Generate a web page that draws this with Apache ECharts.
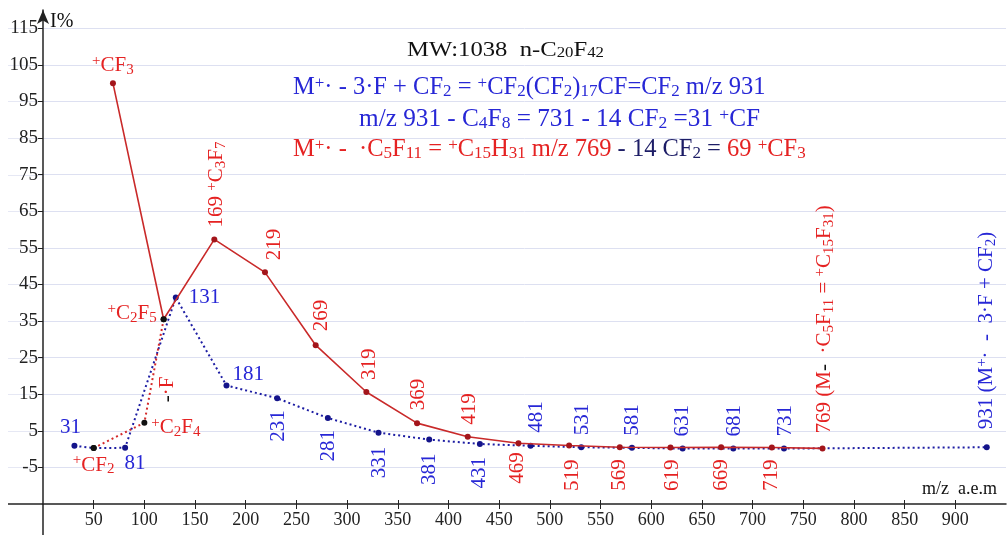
<!DOCTYPE html>
<html>
<head>
<meta charset="utf-8">
<title>n-C20F42 mass spectrum</title>
<script src="https://cdn.jsdelivr.net/npm/echarts@6/dist/echarts.min.js"></script>
<style>
  html, body { margin: 0; padding: 0; background: #fff; }
  #main { width: 1007px; height: 535px; }
</style>
</head>
<body>
<div id="main"></div>
<script>
// ---- data: m/z and relative intensity I% ----
var redMz = [69, 119, 169, 219, 269, 319, 369, 419, 469, 519, 569, 619, 669, 719, 769];
var redI  = [100, 35.5, 57.3, 48.3, 28.4, 15.6, 7.1, 3.4, 1.6, 1.0, 0.5, 0.45, 0.5, 0.45, 0.2];
var redLabels = ['{sup|+}CF{sub|3}', '{sup|+}C{sub|2}F{sub|5}', '169 {sup|+}C{sub|3}F{sub|7}',
  '219', '269', '319', '369', '419', '469', '519', '569', '619', '669', '719',
  '769 (M{k|-}  ·C{sub|5}F{sub|11} = {sup|+}C{sub|15}F{sub|31})'];

var lossMz = [50, 100, 119];
var lossI  = [0.3, 7.2, 35.5];
var lossLabels = ['{sup|+}CF{sub|2}', '{sup|+}C{sub|2}F{sub|4}', '{k|-}·F'];

var blueMz = [31, 50, 81, 131, 181, 231, 281, 331, 381, 431, 481, 531, 581, 631, 681, 731, 931];
var blueI  = [0.9, 0.3, 0.35, 41.4, 17.4, 13.9, 8.5, 4.5, 2.6, 1.4, 0.9, 0.5, 0.35, 0.15, 0.15, 0.15, 0.5];
var blueLabels = ['31', '', '81', '131', '181', '231', '281', '331', '381', '431', '481', '531',
  '581', '631', '681', '731', '931 (M{sup|+}·  -  3·F + CF{sub|2})'];

var xTicks = [50, 100, 150, 200, 250, 300, 350, 400, 450, 500, 550, 600, 650, 700, 750, 800, 850, 900];
var yTicks = [-5, 5, 15, 25, 35, 45, 55, 65, 75, 85, 95, 105, 115];

// ---- styles ----
var FONT = 'Liberation Serif';
var RED = '#e52222', BLUE = '#2727d6', NAVY = '#1d1d66';
var AXIS = '#222';

var rich = {
  sub: { fontSize: 15, lineHeight: 15, verticalAlign: 'bottom', fontFamily: FONT },
  sup: { fontSize: 15, lineHeight: 15, verticalAlign: 'top', fontFamily: FONT },
  k: { color: '#111', fontSize: 21, fontFamily: FONT }
};

function up(dx, dist) {
  return { position: 'top', rotate: 90, align: 'left', verticalAlign: 'middle', distance: dist || 9, offset: [0, dx || 0] };
}
function down(dx, dist) {
  return { position: 'bottom', rotate: 90, align: 'right', verticalAlign: 'middle', distance: dist || 9, offset: [0, dx || 0] };
}

var redLayout = {
  69: { position: 'top', distance: 3 },
  119: { position: 'left', distance: 4, offset: [0, -6] },
  169: up(2), 219: up(9), 269: up(6, 11), 319: up(3), 369: up(1, 10), 419: up(2),
  469: down(-1, 6), 519: down(3, 11), 569: down(0), 619: down(2), 669: down(0), 719: down(0),
  769: up(2, 12)
};
var lossLayout = {
  50: { position: 'bottom', distance: 2 },
  100: { position: 'right', distance: 4, offset: [0, 5] },
  119: { position: [7, 86], rotate: 90, align: 'left', verticalAlign: 'middle' }
};
var blueLayout = {
  31: { position: 'top', distance: 3, offset: [-4, 0] },
  81: { position: 'bottom', distance: 1, offset: [10, 0] },
  131: { position: 'right', distance: 10 },
  181: { position: 'right', distance: 3, offset: [0, -11] },
  231: down(1), 281: down(1), 331: down(1, 11), 381: down(0, 11), 431: down(0, 10),
  481: up(6, 10), 531: up(1), 581: up(1), 631: up(0), 681: up(1), 731: up(1),
  931: up(0, 15)
};

function buildData(xs, ys, texts, layout, dots) {
  return xs.map(function (x, i) {
    var item = { value: [x, ys[i]] };
    if (texts[i] && layout[x]) {
      item.label = Object.assign({ show: true, formatter: texts[i] }, layout[x]);
    }
    if (dots[x]) item.itemStyle = { color: dots[x] };
    return item;
  });
}

function titleRich(size, subSize) {
  var f = size + 'px "Liberation Serif"', fs = subSize + 'px "Liberation Serif"';
  return {
    s: { font: fs, verticalAlign: 'bottom', lineHeight: subSize },
    p: { font: fs, verticalAlign: 'top', lineHeight: subSize },
    n: { font: f, fill: NAVY },
    ns: { font: fs, fill: NAVY, verticalAlign: 'bottom', lineHeight: subSize }
  };
}

var chart = echarts.init(document.getElementById('main'));

chart.setOption({
  animation: false,
  textStyle: { fontFamily: FONT },
  grid: { left: 43, right: 1, top: 10, bottom: 31, containLabel: false, outerBoundsMode: 'none' },
  xAxis: [{
    type: 'value', min: 0, max: 950,
    axisLine: { onZero: false, lineStyle: { color: AXIS, width: 1.5 } },
    axisTick: { customValues: xTicks, length: 5, lineStyle: { color: AXIS } },
    axisLabel: { customValues: xTicks, margin: 7, fontFamily: FONT, fontSize: 18, color: AXIS },
    splitLine: { show: false }
  }, {
    type: 'value', min: 0, max: 950, position: 'bottom',
    axisLine: { show: false, onZero: false },
    axisTick: { customValues: xTicks, inside: true, length: 4, lineStyle: { color: AXIS } },
    axisLabel: { show: false },
    splitLine: { show: false }
  }],
  yAxis: {
    type: 'value', min: -15, max: 120,
    axisLine: { onZero: false, symbol: ['none', 'arrow'], symbolSize: [9, 14], lineStyle: { color: AXIS, width: 1.5 } },
    axisTick: { customValues: yTicks, length: 5, lineStyle: { color: AXIS } },
    axisLabel: { customValues: yTicks, margin: 5, fontFamily: FONT, fontSize: 19, color: AXIS },
    splitLine: { show: true, lineStyle: { color: '#dde0f1', width: 1 } }
  },
  graphic: [
    { type: 'text', x: 50, y: 22, style: { text: 'I%', font: '20px "Liberation Serif"', fill: '#111', verticalAlign: 'middle' } },
    { type: 'text', x: 922, y: 489, style: { text: 'm/z  a.e.m', font: '18px "Liberation Serif"', fill: '#111', verticalAlign: 'middle' } },
    { type: 'text', x: 407, y: 50, scaleX: 1.12, style: {
      text: 'MW:1038  n-C{s|20}F{s|42}', font: '22px "Liberation Serif"', fill: '#111', verticalAlign: 'middle',
      rich: titleRich(22, 15)
    } },
    { type: 'text', x: 293, y: 88, style: {
      text: 'M{p|+}· - 3·F + CF{s|2} = {p|+}CF{s|2}(CF{s|2}){s|17}CF=CF{s|2} m/z 931',
      font: '24.5px "Liberation Serif"', fill: BLUE, verticalAlign: 'middle', rich: titleRich(24.5, 17)
    } },
    { type: 'text', x: 359, y: 120, scaleX: 1.03, style: {
      text: 'm/z 931 - C{s|4}F{s|8} = 731 - 14 CF{s|2} =31 {p|+}CF',
      font: '24.5px "Liberation Serif"', fill: BLUE, verticalAlign: 'middle', rich: titleRich(24.5, 17)
    } },
    { type: 'text', x: 293, y: 150, style: {
      text: 'M{p|+}· -  ·C{s|5}F{s|11} = {p|+}C{s|15}H{s|31} m/z 769{n| - 14 CF}{ns|2}{n| = }69 {p|+}CF{s|3}',
      font: '24.5px "Liberation Serif"', fill: RED, verticalAlign: 'middle', rich: titleRich(24.5, 17)
    } }
  ],
  series: [{
    name: 'blue', type: 'line', z: 2,
    symbol: 'circle', symbolSize: 6, showAllSymbol: true,
    lineStyle: { color: '#1d1da3', width: 2, type: [2, 3] },
    itemStyle: { color: '#14148a' },
    label: { show: false, color: BLUE, fontSize: 21, fontFamily: FONT, lineHeight: 24, rich: rich },
    data: buildData(blueMz, blueI, blueLabels, blueLayout, { 50: '#111' })
  }, {
    name: 'loss', type: 'line', z: 3,
    symbol: 'circle', symbolSize: 6, showAllSymbol: true,
    lineStyle: { color: '#d42a2a', width: 2, type: [2, 3] },
    itemStyle: { color: '#111' },
    label: { show: false, color: RED, fontSize: 21, fontFamily: FONT, lineHeight: 24, rich: rich },
    data: buildData(lossMz, lossI, lossLabels, lossLayout, {})
  }, {
    name: 'red', type: 'line', z: 4,
    symbol: 'circle', symbolSize: 6, showAllSymbol: true,
    lineStyle: { color: '#c92a2a', width: 1.6 },
    itemStyle: { color: '#a3151b' },
    label: { show: false, color: RED, fontSize: 21, fontFamily: FONT, lineHeight: 24, rich: rich },
    data: buildData(redMz, redI, redLabels, redLayout, { 119: '#111' })
  }]
});

// axis lines run past the origin: x axis to the left edge, y axis to the bottom edge,
// and the faint grid lines reach left under the tick labels
var x0 = chart.convertToPixel({ xAxisIndex: 0 }, 0);
var yBase = chart.convertToPixel({ yAxisIndex: 0 }, -15);
var extra = [
  { id: 'yExt', type: 'line', z: 5, shape: { x1: x0, y1: yBase, x2: x0, y2: 535 }, style: { stroke: AXIS, lineWidth: 1.5 } },
  { id: 'xExt', type: 'line', z: 5, shape: { x1: 8, y1: yBase, x2: x0, y2: yBase }, style: { stroke: AXIS, lineWidth: 1.5 } }
];
yTicks.forEach(function (v, i) {
  var py = Math.round(chart.convertToPixel({ yAxisIndex: 0 }, v)) + 0.5;
  extra.push({ id: 'gl' + i, type: 'line', z: -1, shape: { x1: 8, y1: py, x2: x0, y2: py }, style: { stroke: '#e6e8f4', lineWidth: 1 } });
});
chart.setOption({ graphic: extra });
</script>
</body>
</html>
